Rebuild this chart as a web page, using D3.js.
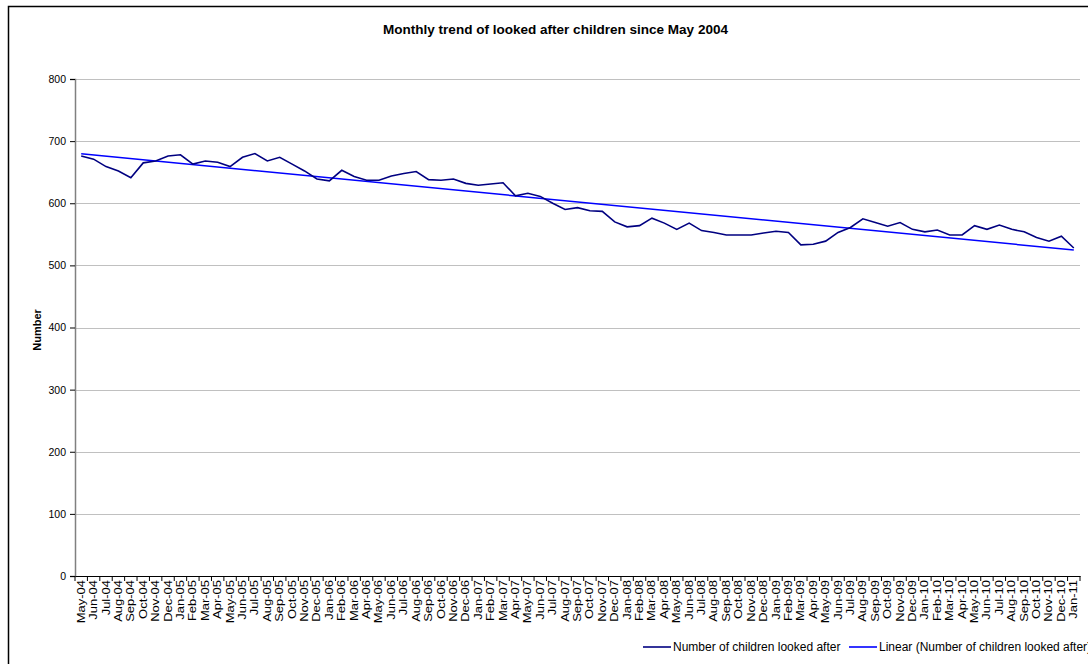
<!DOCTYPE html>
<html>
<head>
<meta charset="utf-8">
<script src="https://cdn.jsdelivr.net/npm/d3@7"></script>
<style>
  body { margin: 0; background: #fff; }
  svg { display: block; font-family: "Liberation Sans", Arial, sans-serif; }
</style>
</head>
<body>
<svg id="chart"></svg>
<script>
// categorias (meses) e valores
const months = [
  "May-04","Jun-04","Jul-04","Aug-04","Sep-04","Oct-04","Nov-04","Dec-04",
  "Jan-05","Feb-05","Mar-05","Apr-05","May-05","Jun-05","Jul-05","Aug-05","Sep-05","Oct-05","Nov-05","Dec-05",
  "Jan-06","Feb-06","Mar-06","Apr-06","May-06","Jun-06","Jul-06","Aug-06","Sep-06","Oct-06","Nov-06","Dec-06",
  "Jan-07","Feb-07","Mar-07","Apr-07","May-07","Jun-07","Jul-07","Aug-07","Sep-07","Oct-07","Nov-07","Dec-07",
  "Jan-08","Feb-08","Mar-08","Apr-08","May-08","Jun-08","Jul-08","Aug-08","Sep-08","Oct-08","Nov-08","Dec-08",
  "Jan-09","Feb-09","Mar-09","Apr-09","May-09","Jun-09","Jul-09","Aug-09","Sep-09","Oct-09","Nov-09","Dec-09",
  "Jan-10","Feb-10","Mar-10","Apr-10","May-10","Jun-10","Jul-10","Aug-10","Sep-10","Oct-10","Nov-10","Dec-10",
  "Jan-11"
]

const children = [
  676, 671, 659, 652, 641, 665, 668, 676,
  678, 663, 668, 666, 659, 674, 680, 668, 674, 663, 652, 639,
  636, 653, 643, 637, 637, 644, 648, 651, 638, 637, 639, 632,
  629, 631, 633, 612, 616, 611, 600, 590, 593, 588, 587, 570,
  562, 564, 576, 568, 558, 568, 556, 553, 549, 549, 549, 552,
  555, 553, 533, 534, 539, 553, 561, 575, 569, 563, 569, 558,
  554, 557, 549, 549, 564, 558, 565, 558, 554, 545, 539, 547,
  528
]

const yTicks = [0, 100, 200, 300, 400, 500, 600, 700, 800]

const seriesNames = ["Number of children looked after", "Linear (Number of children looked after)"]

const width = 1088
const height = 664
const margin = { left: 75, right: 8, top: 79, bottom: 88 }

const svg = d3.select("#chart")
  .attr("width", width)
  .attr("height", height)

// moldura exterior
svg.append("rect")
  .attr("x", 8.5).attr("y", 6.5)
  .attr("width", 1200).attr("height", 800)
  .attr("fill", "none")
  .attr("stroke", "#000")
  .attr("stroke-width", 1.5)

const x = d3.scaleBand()
  .domain(months)
  .range([margin.left, width - margin.right])
  .padding(0)

const y = d3.scaleLinear()
  .domain([0, 800])
  .range([height - margin.bottom, margin.top])

// grelha
svg.append("g")
  .selectAll("line")
  .data(yTicks.filter(d => d > 0))
  .join("line")
  .attr("x1", margin.left).attr("x2", width - margin.right)
  .attr("y1", d => Math.round(y(d)) + 0.5).attr("y2", d => Math.round(y(d)) + 0.5)
  .attr("stroke", "#c0c0c0")
  .attr("stroke-width", 1)

// eixo y
const yAxis = svg.append("g")
  .attr("transform", `translate(${margin.left},0)`)
  .call(d3.axisLeft(y).tickValues(yTicks).tickSize(5).tickPadding(4))
yAxis.selectAll("text").style("font-size", "10.5px").attr("fill", "#000")
yAxis.selectAll("line").attr("stroke", "#000")
yAxis.select(".domain").attr("stroke", "#808080").attr("stroke-width", 1.5)

// eixo x (rotulos ao centro, tracos nas fronteiras)
const y0 = y(0)
const xAxis = svg.append("g")
  .attr("transform", `translate(0,${y0})`)
  .call(d3.axisBottom(x).tickSize(0).tickPadding(0))
xAxis.select(".domain").attr("stroke", "#000").attr("stroke-width", 1)
xAxis.selectAll("text")
  .style("font-size", "10px")
  .attr("fill", "#000")
  .attr("text-anchor", "end")
  .attr("dy", null)
  .attr("y", 0)
  .attr("transform", "translate(3.5,4) rotate(-90) scale(1.3,1)")

const boundaries = months.map(m => x(m)).concat([x.range()[1]])
svg.append("g")
  .selectAll("line")
  .data(boundaries)
  .join("line")
  .attr("x1", d => d).attr("x2", d => d)
  .attr("y1", y0).attr("y2", y0 + 5)
  .attr("stroke", "#000")

// linha de tendencia (regressao linear)
const n = children.length
const idx = d3.range(n)
const mx = d3.mean(idx)
const my = d3.mean(children)
const slope = d3.sum(idx, i => (i - mx) * (children[i] - my)) / d3.sum(idx, i => (i - mx) * (i - mx))
const intercept = my - slope * mx
const cx = m => x(m) + x.bandwidth() / 2

svg.append("line")
  .attr("x1", cx(months[0])).attr("y1", y(intercept))
  .attr("x2", cx(months[n - 1])).attr("y2", y(intercept + slope * (n - 1)))
  .attr("stroke", "#0000ff")
  .attr("stroke-width", 1.5)

// serie principal
const line = d3.line()
  .x((d, i) => cx(months[i]))
  .y(d => y(d))

svg.append("path")
  .datum(children)
  .attr("d", line)
  .attr("fill", "none")
  .attr("stroke", "#000080")
  .attr("stroke-width", 1.6)

// titulo
svg.append("text")
  .attr("x", 383).attr("y", 34)
  .attr("textLength", 345)
  .attr("lengthAdjust", "spacingAndGlyphs")
  .style("font-size", "12px")
  .style("font-weight", "bold")
  .text("Monthly trend of looked after children since May 2004")

svg.append("text")
  .attr("transform", `translate(41,330) rotate(-90)`)
  .attr("text-anchor", "middle")
  .style("font-size", "11px")
  .style("font-weight", "bold")
  .text("Number")

// legenda
const legendItems = [
  { name: seriesNames[0], color: "#000080", x0: 643 },
  { name: seriesNames[1], color: "#0000ff", x0: 849 }
]
const legend = svg.append("g")
legendItems.forEach(item => {
  legend.append("line")
    .attr("x1", item.x0).attr("x2", item.x0 + 28)
    .attr("y1", 647).attr("y2", 647)
    .attr("stroke", item.color)
    .attr("stroke-width", 1.6)
  legend.append("text")
    .attr("x", item.x0 + 30).attr("y", 651)
    .style("font-size", "12px")
    .text(item.name)
})
</script>
</body>
</html>
